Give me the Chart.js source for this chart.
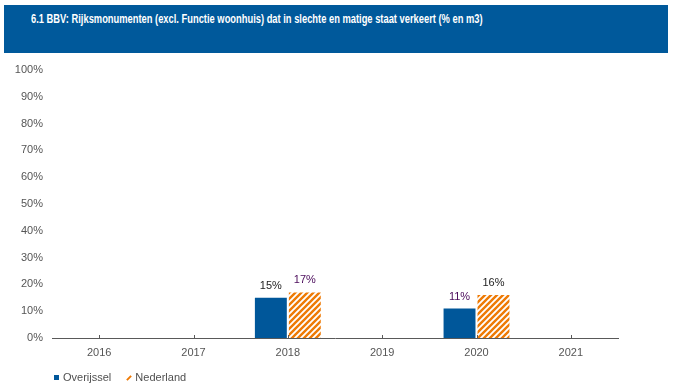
<!DOCTYPE html>
<html>
<head>
<meta charset="utf-8">
<script src="https://cdn.jsdelivr.net/npm/chart.js@4.4.1/dist/chart.umd.min.js"></script>
<style>
  body { margin: 0; background: #fff; font-family: Arial, "Liberation Sans", sans-serif; }
  #wrap { position: relative; width: 674px; height: 389px; }
  #kop { position: absolute; left: 4px; top: 5px; width: 664px; height: 48px; background: #00599b; }
  #kop span { position: absolute; left: 27px; top: 6px; color: #fff; font-weight: bold; font-size: 13px; line-height: 15px; white-space: nowrap; transform-origin: 0 0; }
  #legenda { position: absolute; left: 54px; top: 371px; font-size: 11px; color: #505050; white-space: nowrap; }
  #legenda .item { display: inline-block; margin-right: 12px; }
  .blok { display: inline-block; width: 5px; height: 5px; background: #00579a; margin-right: 4px; vertical-align: 1px; }
  .streep { display: inline-block; width: 2px; height: 6px; background: #ee7a05; margin-right: 5px; margin-left: 2px; transform: rotate(45deg); vertical-align: 0px; }
  canvas { position: absolute; left: 0; top: 0; }
</style>
</head>
<body>
<div id="wrap">
  <canvas id="grafiek" width="674" height="389"></canvas>
  <div id="kop"><span id="titel">6.1 BBV: Rijksmonumenten (excl. Functie woonhuis) dat in slechte en matige staat verkeert (% en m3)</span></div>
  <div id="legenda">
    <span class="item"><span class="blok"></span>Overijssel</span>
    <span class="item"><span class="streep"></span>Nederland</span>
  </div>
</div>
<script>
// Gegevens uit de grafiek
const jaren = ['2016', '2017', '2018', '2019', '2020', '2021'];
const overijssel = [null, null, 15, null, 11, null];
const nederland = [null, null, 17, null, 16, null];
const yTicks = [0, 10, 20, 30, 40, 50, 60, 70, 80, 90, 100];

// titel op de juiste breedte zetten
const titel = document.getElementById('titel');
titel.style.transform = 'scaleX(' + (452 / titel.offsetWidth) + ')';

// arcering voor Nederland
function maakArcering(kleur) {
  const c = document.createElement('canvas');
  c.width = 6;
  c.height = 6;
  const g = c.getContext('2d');
  g.strokeStyle = kleur;
  g.lineWidth = 2.4;
  g.beginPath();
  g.moveTo(-1, 7); g.lineTo(7, -1);
  g.moveTo(-4, 4); g.lineTo(4, -4);
  g.moveTo(2, 10); g.lineTo(10, 2);
  g.stroke();
  return g.createPattern(c, 'repeat');
}

// labels boven de staven
const labelKleuren = [['#222', '#4a0a5a'], ['#4a0a5a', '#222']];
const waardeLabels = {
  id: 'waardeLabels',
  afterDatasetsDraw(chart) {
    const ctx = chart.ctx;
    ctx.save();
    ctx.font = '11px Arial, "Liberation Sans", sans-serif';
    ctx.textAlign = 'center';
    ctx.textBaseline = 'middle';
    let n = 0;
    chart.data.labels.forEach((l, i) => {
      let had = false;
      chart.data.datasets.forEach((ds, d) => {
        const v = ds.data[i];
        if (v == null) return;
        had = true;
        const bar = chart.getDatasetMeta(d).data[i];
        ctx.fillStyle = labelKleuren[n][d];
        ctx.fillText(v + '%', bar.x, bar.y - 12);
      });
      if (had) n++;
    });
    // kleine streepjes op de x-as
    const x = chart.scales.x;
    const yb = chart.chartArea.bottom;
    ctx.strokeStyle = '#595959';
    ctx.lineWidth = 1;
    ctx.beginPath();
    chart.data.labels.forEach((l, i) => {
      const px = Math.round(x.getPixelForValue(i)) + 0.5;
      ctx.moveTo(px, yb);
      ctx.lineTo(px, yb - 3);
    });
    ctx.stroke();
    ctx.restore();
  }
};

const ctx = document.getElementById('grafiek').getContext('2d');
new Chart(ctx, {
  type: 'bar',
  data: {
    labels: jaren,
    datasets: [
      {
        label: 'Overijssel',
        data: overijssel,
        backgroundColor: '#00579a',
        categoryPercentage: 0.72,
        barPercentage: 0.94
      },
      {
        label: 'Nederland',
        data: nederland,
        backgroundColor: maakArcering('#ee7a05'),
        categoryPercentage: 0.72,
        barPercentage: 0.94
      }
    ]
  },
  options: {
    responsive: false,
    animation: false,
    layout: { padding: { left: 0, right: 56, top: 70, bottom: 31 } },
    plugins: {
      legend: { display: false },
      tooltip: { enabled: false }
    },
    scales: {
      x: {
        grid: { display: false, drawTicks: false },
        border: { display: true, color: '#595959', width: 1 },
        ticks: { color: '#555', font: { family: 'Arial', size: 11 }, padding: 8 },
        afterFit: (s) => { s.height = 20; }
      },
      y: {
        min: 0,
        max: 100,
        afterBuildTicks: (s) => { s.ticks = yTicks.map((v) => ({ value: v })); },
        grid: { display: false, drawTicks: false },
        border: { display: false },
        ticks: {
          color: '#555',
          font: { family: 'Arial', size: 11 },
          padding: 9,
          callback: (v) => v + '%'
        },
        afterFit: (s) => { s.width = 52; }
      }
    }
  },
  plugins: [waardeLabels]
});
</script>
</body>
</html>
